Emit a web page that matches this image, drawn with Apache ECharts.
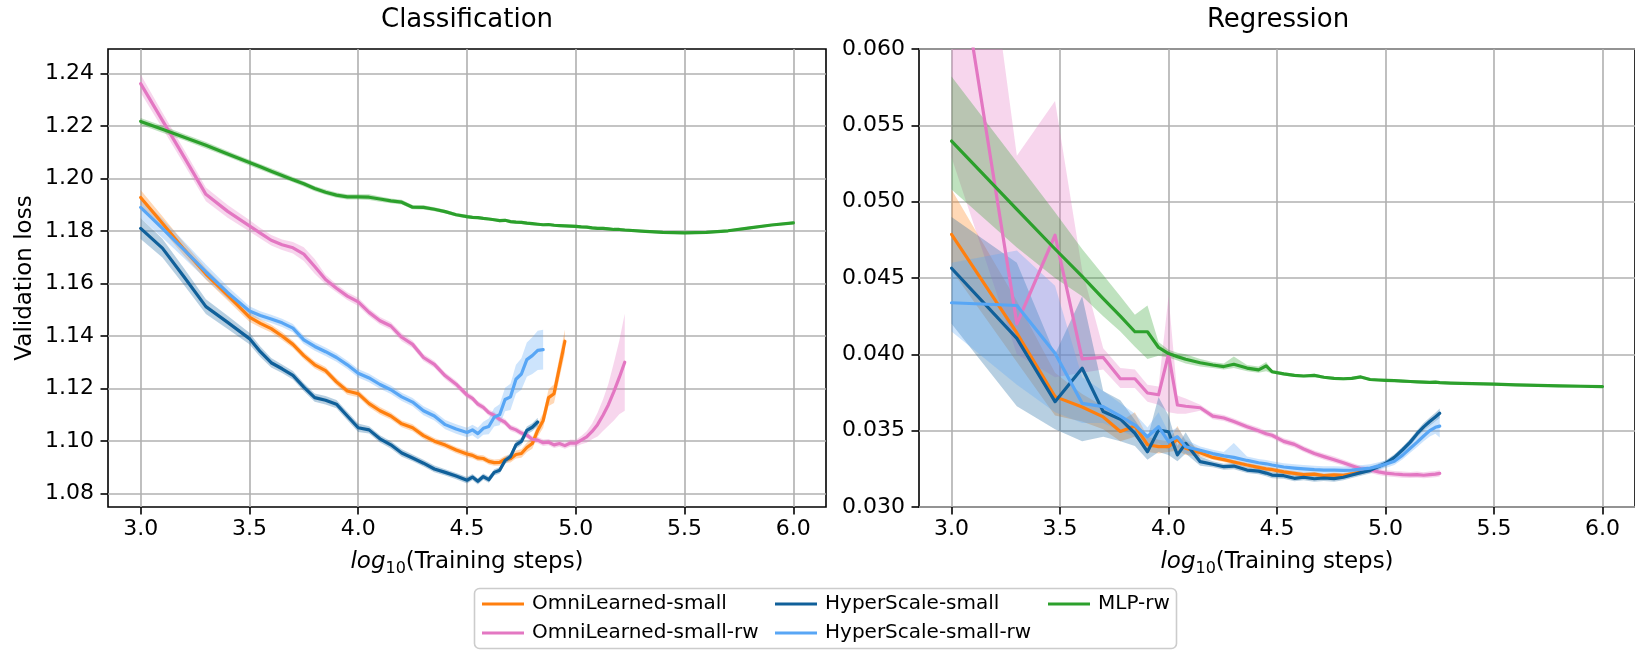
<!DOCTYPE html>
<html>
<head>
<meta charset="utf-8">
<script src="https://cdn.jsdelivr.net/npm/echarts@6/dist/echarts.min.js"></script>
<style>
  html, body { margin: 0; padding: 0; background: #ffffff; }
  #chart { width: 1635px; height: 650px; }
</style>
</head>
<body>
<div id="chart"></div>
<script>
// ---------- tick labels ----------
const xTicks = [3.0, 3.5, 4.0, 4.5, 5.0, 5.5, 6.0];
const clsYTicks = [1.08, 1.10, 1.12, 1.14, 1.16, 1.18, 1.20, 1.22, 1.24];
const regYTicks = [0.030, 0.035, 0.040, 0.045, 0.050, 0.055, 0.060];

// ---------- classification: log10(training steps) ----------
const clsX = [3.0, 3.1, 3.2, 3.3, 3.4, 3.5,
  3.55, 3.6, 3.65, 3.7, 3.75, 3.8, 3.85, 3.9, 3.95, 4.0,
  4.05, 4.1, 4.15, 4.2, 4.25, 4.3, 4.35, 4.4, 4.45, 4.5,
  4.525, 4.55, 4.575, 4.6, 4.625, 4.65, 4.675, 4.7, 4.725, 4.75,
  4.775, 4.8, 4.825, 4.85, 4.875, 4.9, 4.925, 4.95, 4.975, 5.0,
  5.025, 5.05, 5.075, 5.1, 5.125, 5.15, 5.175, 5.2, 5.225,
  5.3, 5.4, 5.5, 5.6, 5.7, 5.8, 5.9, 6.0];

// classification validation loss (mean) and spread of the shaded band
const clsOrange = [1.1928, 1.1830, 1.1730, 1.1636, 1.1555, 1.1472,
  1.1448, 1.1428, 1.1400, 1.1368, 1.1325, 1.1290, 1.1268, 1.1225, 1.1190, 1.1180,
  1.1142, 1.1115, 1.1095, 1.1065, 1.1050, 1.1020, 1.0999, 1.0984, 1.0965, 1.0950,
  1.0945, 1.0935, 1.0933, 1.0922, 1.0917, 1.0918, 1.0930, 1.0932, 1.0948, 1.0952,
  1.0975, 1.0990, 1.1040, 1.1078, 1.1165, 1.1180, 1.1280, 1.1380];
const clsOrangeSpread = [0.0028, 0.0026, 0.0024, 0.0022, 0.0020, 0.0018,
  0.0016, 0.0015, 0.0015, 0.0014, 0.0014, 0.0014, 0.0014, 0.0014, 0.0014, 0.0014,
  0.0014, 0.0014, 0.0013, 0.0013, 0.0013, 0.0013, 0.0012, 0.0012, 0.0012, 0.0012,
  0.0012, 0.0012, 0.0012, 0.0012, 0.0012, 0.0013, 0.0013, 0.0014, 0.0015, 0.0016,
  0.0018, 0.0020, 0.0024, 0.0028, 0.0032, 0.0036, 0.0040, 0.0045];

const clsPink = [1.2362, 1.2222, 1.2082, 1.1940, 1.1875, 1.1820,
  1.1792, 1.1765, 1.1748, 1.1736, 1.1712, 1.1665, 1.1615, 1.1582, 1.1552, 1.1530,
  1.1490, 1.1458, 1.1438, 1.1395, 1.1368, 1.1318, 1.1292, 1.1248, 1.1216, 1.1175,
  1.1162, 1.1140, 1.1128, 1.1108, 1.1098, 1.1082, 1.1071, 1.1050, 1.1042, 1.1030,
  1.1022, 1.1006, 1.1003, 1.0993, 1.0995, 1.0985, 1.0990, 1.0982, 1.0992, 1.0991,
  1.1003, 1.1015, 1.1036, 1.1062, 1.1098, 1.1138, 1.1188, 1.1242, 1.1300];
const clsPinkSpread = [0.0035, 0.0030, 0.0028, 0.0026, 0.0024, 0.0022,
  0.0020, 0.0020, 0.0020, 0.0022, 0.0026, 0.0028, 0.0018, 0.0015, 0.0015, 0.0016,
  0.0015, 0.0014, 0.0014, 0.0015, 0.0014, 0.0013, 0.0013, 0.0013, 0.0013, 0.0012,
  0.0012, 0.0012, 0.0012, 0.0012, 0.0012, 0.0012, 0.0012, 0.0012, 0.0012, 0.0012,
  0.0012, 0.0012, 0.0012, 0.0012, 0.0012, 0.0012, 0.0012, 0.0012, 0.0013, 0.0013,
  0.0016, 0.0022, 0.0030, 0.0045, 0.0060, 0.0080, 0.0110, 0.0140, 0.0185];

const clsDark = [1.1810, 1.1735, 1.1625, 1.1512, 1.1452, 1.1390,
  1.1340, 1.1298, 1.1275, 1.1250, 1.1205, 1.1165, 1.1155, 1.1140, 1.1095, 1.1050,
  1.1042, 1.1008, 1.0985, 1.0954, 1.0935, 1.0915, 1.0893, 1.0880, 1.0866, 1.0850,
  1.0862, 1.0846, 1.0864, 1.0852, 1.0880, 1.0888, 1.0925, 1.0940, 1.0985, 1.0998,
  1.1040, 1.1052, 1.1072];
const clsDarkSpread = [0.0040, 0.0036, 0.0032, 0.0028, 0.0025, 0.0022,
  0.0020, 0.0018, 0.0016, 0.0016, 0.0016, 0.0016, 0.0016, 0.0016, 0.0016, 0.0016,
  0.0014, 0.0014, 0.0014, 0.0014, 0.0013, 0.0013, 0.0013, 0.0012, 0.0012, 0.0012,
  0.0012, 0.0012, 0.0012, 0.0012, 0.0012, 0.0012, 0.0013, 0.0013, 0.0014, 0.0014,
  0.0015, 0.0015, 0.0016];

const clsLight = [1.1890, 1.1810, 1.1728, 1.1644, 1.1565, 1.1495,
  1.1478, 1.1465, 1.1450, 1.1430, 1.1385, 1.1360, 1.1340, 1.1318, 1.1290, 1.1258,
  1.1240, 1.1215, 1.1195, 1.1168, 1.1148, 1.1115, 1.1095, 1.1062, 1.1045, 1.1032,
  1.1042, 1.1028, 1.1048, 1.1055, 1.1090, 1.1100, 1.1158, 1.1168, 1.1235, 1.1255,
  1.1310, 1.1325, 1.1345, 1.1348];
const clsLightSpread = [0.0040, 0.0036, 0.0032, 0.0028, 0.0024, 0.0018,
  0.0016, 0.0016, 0.0016, 0.0016, 0.0016, 0.0016, 0.0016, 0.0016, 0.0016, 0.0016,
  0.0016, 0.0016, 0.0016, 0.0016, 0.0016, 0.0017, 0.0017, 0.0018, 0.0018, 0.0018,
  0.0020, 0.0022, 0.0025, 0.0030, 0.0035, 0.0040, 0.0045, 0.0050, 0.0055, 0.0060,
  0.0065, 0.0070, 0.0075, 0.0076];

const clsGreen = [1.2218, 1.2188, 1.2158, 1.2127, 1.2094, 1.2061,
  1.2045, 1.2028, 1.2012, 1.1996, 1.1980, 1.1962, 1.1948, 1.1937, 1.1930, 1.1930,
  1.1929, 1.1922, 1.1915, 1.1910, 1.1891, 1.1890, 1.1883, 1.1874, 1.1862, 1.1855,
  1.1852, 1.1851, 1.1848, 1.1846, 1.1843, 1.1840, 1.1841, 1.1836, 1.1834, 1.1833,
  1.1830, 1.1828, 1.1826, 1.1824, 1.1825, 1.1822, 1.1821, 1.1820, 1.1819, 1.1818,
  1.1816, 1.1815, 1.1812, 1.1810, 1.1810, 1.1808, 1.1806, 1.1806, 1.1804,
  1.1800, 1.1795, 1.1793, 1.1795, 1.1801, 1.1812, 1.1823, 1.1831];
const clsGreenSpread = [0.0013, 0.0013, 0.0012, 0.0012, 0.0011, 0.0011,
  0.0011, 0.0011, 0.0011, 0.0010, 0.0010, 0.0010, 0.0010, 0.0010, 0.0010, 0.0010,
  0.0011, 0.0010, 0.0009, 0.0009, 0.0008, 0.0008, 0.0008, 0.0007, 0.0007, 0.0007,
  0.0006, 0.0006, 0.0006, 0.0006, 0.0006, 0.0006, 0.0006, 0.0006, 0.0006, 0.0006,
  0.0006, 0.0006, 0.0006, 0.0006, 0.0006, 0.0006, 0.0006, 0.0006, 0.0006, 0.0006,
  0.0006, 0.0006, 0.0006, 0.0006, 0.0006, 0.0006, 0.0006, 0.0006, 0.0006,
  0.0005, 0.0005, 0.0005, 0.0005, 0.0005, 0.0005, 0.0005, 0.0005];

// ---------- regression: log10(training steps) ----------
const regX = [3.0, 3.301, 3.477, 3.602, 3.699, 3.778, 3.845, 3.903, 3.954, 4.0,
  4.041, 4.079, 4.146, 4.204, 4.255, 4.301, 4.362, 4.415, 4.45, 4.477,
  4.531, 4.58, 4.623, 4.672, 4.716, 4.763, 4.806, 4.845, 4.886, 4.929,
  4.968, 5.0, 5.041, 5.079, 5.114, 5.146, 5.176, 5.204, 5.23, 5.25,
  5.3, 5.4, 5.5, 5.6, 5.7, 5.8, 5.9, 6.0];

// regression validation loss (mean) with lower / upper edge of the shaded band
const regOrange = [0.04786, 0.04140, 0.03723, 0.03655, 0.03590, 0.03495, 0.03530, 0.03408, 0.03395, 0.03395,
  0.03443, 0.03385, 0.03355, 0.03325, 0.03310, 0.03295, 0.03275, 0.03260, 0.03250, 0.03245,
  0.03230, 0.03220, 0.03212, 0.03215, 0.03205, 0.03210, 0.03208, 0.03218, 0.03228, 0.03248];
const regOrangeLo = [0.0455, 0.0395, 0.0360, 0.0356, 0.0351, 0.0343, 0.0346, 0.0336, 0.0335, 0.0336,
  0.0337, 0.0334, 0.0333, 0.03310, 0.03295, 0.03280, 0.03260, 0.03245, 0.03235, 0.03230,
  0.03215, 0.03205, 0.03197, 0.03200, 0.03190, 0.03195, 0.03193, 0.03203, 0.03213, 0.03233];
const regOrangeHi = [0.0508, 0.0435, 0.0388, 0.0374, 0.0366, 0.0356, 0.0362, 0.0346, 0.0344, 0.0343,
  0.0353, 0.0343, 0.0338, 0.03340, 0.03325, 0.03310, 0.03290, 0.03275, 0.03265, 0.03260,
  0.03245, 0.03235, 0.03227, 0.03230, 0.03220, 0.03225, 0.03223, 0.03233, 0.03243, 0.03263];

const regPink = [0.0690, 0.0420, 0.0478, 0.0397, 0.0398, 0.0384, 0.0384, 0.03747, 0.03735, 0.0400,
  0.03668, 0.03660, 0.03650, 0.03595, 0.03583, 0.03560, 0.03526, 0.03500, 0.03480, 0.03470,
  0.03430, 0.03410, 0.03380, 0.03350, 0.03330, 0.03310, 0.03290, 0.03270, 0.03250, 0.03242,
  0.03230, 0.03222, 0.03216, 0.03212, 0.03210, 0.03212, 0.03208, 0.03212, 0.03215, 0.03220];
const regPinkLo = [0.0529, 0.0400, 0.0385, 0.0388, 0.0390, 0.0378, 0.0378, 0.0369, 0.0367, 0.0362,
  0.0361, 0.0361, 0.03630, 0.03575, 0.03563, 0.03540, 0.03506, 0.03480, 0.03460, 0.03450,
  0.03410, 0.03390, 0.03360, 0.03330, 0.03310, 0.03290, 0.03270, 0.03250, 0.03230, 0.03222,
  0.03210, 0.03202, 0.03196, 0.03192, 0.03190, 0.03192, 0.03188, 0.03192, 0.03195, 0.03200];
const regPinkHi = [0.0850, 0.0530, 0.0566, 0.0455, 0.0404, 0.0391, 0.0390, 0.0380, 0.0379, 0.0438,
  0.0373, 0.0371, 0.03670, 0.03615, 0.03603, 0.03580, 0.03546, 0.03520, 0.03500, 0.03490,
  0.03450, 0.03430, 0.03400, 0.03370, 0.03350, 0.03330, 0.03310, 0.03290, 0.03270, 0.03262,
  0.03250, 0.03242, 0.03236, 0.03232, 0.03230, 0.03232, 0.03228, 0.03232, 0.03235, 0.03240];

const regDark = [0.04564, 0.04105, 0.03690, 0.03909, 0.03625, 0.03575, 0.03483, 0.03362, 0.03504, 0.03493,
  0.03341, 0.03417, 0.03297, 0.03280, 0.03264, 0.03268, 0.03242, 0.03235, 0.03222, 0.03209,
  0.03205, 0.03188, 0.03195, 0.03185, 0.03190, 0.03186, 0.03195, 0.03210, 0.03225, 0.03240,
  0.03265, 0.03285, 0.03325, 0.03375, 0.03425, 0.03480, 0.03525, 0.03560, 0.03590, 0.03614];
const regDarkLo = [0.0420, 0.0366, 0.0351, 0.0343, 0.0346, 0.0343, 0.0340, 0.0331, 0.0336, 0.0334,
  0.0330, 0.0335, 0.0327, 0.03260, 0.03244, 0.03248, 0.03222, 0.03215, 0.03202, 0.03189,
  0.03185, 0.03168, 0.03175, 0.03165, 0.03170, 0.03166, 0.03175, 0.03190, 0.03205, 0.03220,
  0.03245, 0.03265, 0.03305, 0.03355, 0.03403, 0.03457, 0.03500, 0.03533, 0.03562, 0.03583];
const regDarkHi = [0.0490, 0.0460, 0.0400, 0.0438, 0.0376, 0.0370, 0.0357, 0.0345, 0.0372, 0.0360,
  0.0340, 0.0349, 0.0333, 0.03300, 0.03284, 0.03288, 0.03262, 0.03255, 0.03242, 0.03229,
  0.03225, 0.03208, 0.03215, 0.03205, 0.03210, 0.03206, 0.03215, 0.03230, 0.03245, 0.03260,
  0.03285, 0.03305, 0.03345, 0.03395, 0.03447, 0.03503, 0.03550, 0.03587, 0.03618, 0.03645];

const regLight = [0.04338, 0.04320, 0.04007, 0.03679, 0.03657, 0.03595, 0.03537, 0.03460, 0.03526, 0.03428,
  0.03460, 0.03395, 0.03372, 0.03350, 0.03335, 0.03325, 0.03305, 0.03290, 0.03283, 0.03275,
  0.03262, 0.03255, 0.03250, 0.03245, 0.03242, 0.03242, 0.03240, 0.03242, 0.03248, 0.03255,
  0.03268, 0.03280, 0.03300, 0.03340, 0.03385, 0.03425, 0.03465, 0.03500, 0.03522, 0.03530];
const regLightLo = [0.0415, 0.0380, 0.0362, 0.0355, 0.0355, 0.0350, 0.0346, 0.0340, 0.0342, 0.0337,
  0.0339, 0.0335, 0.03347, 0.03325, 0.03310, 0.03300, 0.03280, 0.03265, 0.03258, 0.03250,
  0.03237, 0.03230, 0.03225, 0.03220, 0.03217, 0.03217, 0.03215, 0.03217, 0.03223, 0.03230,
  0.03243, 0.03255, 0.03275, 0.03312, 0.03355, 0.03393, 0.03430, 0.03462, 0.03480, 0.03455];
const regLightHi = [0.0460, 0.0468, 0.0445, 0.0385, 0.0376, 0.0368, 0.0361, 0.0352, 0.0362, 0.0349,
  0.0352, 0.0344, 0.03397, 0.03375, 0.03360, 0.03420, 0.03330, 0.03315, 0.03308, 0.03300,
  0.03287, 0.03280, 0.03275, 0.03270, 0.03267, 0.03267, 0.03265, 0.03267, 0.03273, 0.03280,
  0.03293, 0.03305, 0.03325, 0.03368, 0.03415, 0.03457, 0.03500, 0.03538, 0.03565, 0.03610];

const regGreen = [0.05397, 0.04950, 0.04690, 0.04510, 0.04365, 0.04250, 0.04148, 0.04148, 0.04045, 0.04005,
  0.03985, 0.03968, 0.03945, 0.03930, 0.03920, 0.03935, 0.03910, 0.03898, 0.03924, 0.03886,
  0.03872, 0.03862, 0.03858, 0.03862, 0.03850, 0.03842, 0.03840, 0.03843, 0.03852, 0.03835,
  0.03832, 0.03830, 0.03828, 0.03825, 0.03822, 0.03820, 0.03818, 0.03816, 0.03818, 0.03815,
  0.03812, 0.03808, 0.03805, 0.03800, 0.03797, 0.03794, 0.03791, 0.03789];
const regGreenLo = [0.0508, 0.0470, 0.0450, 0.0438, 0.0425, 0.0415, 0.0405, 0.0397, 0.0399, 0.0398,
  0.0396, 0.0394, 0.0392, 0.0391, 0.0390, 0.0391, 0.0389, 0.0388, 0.0389, 0.03875,
  0.03862, 0.03852, 0.03848, 0.03852, 0.03840, 0.03832, 0.03830, 0.03833, 0.03842, 0.03825,
  0.03822, 0.03820, 0.03818, 0.03815, 0.03812, 0.03810, 0.03808, 0.03806, 0.03808, 0.03805,
  0.03803, 0.03799, 0.03796, 0.03791, 0.03788, 0.03785, 0.03782, 0.03780];
const regGreenHi = [0.0582, 0.0526, 0.0493, 0.0469, 0.0452, 0.0438, 0.0426, 0.0432, 0.0408, 0.0403,
  0.0401, 0.0400, 0.0397, 0.0395, 0.0394, 0.03985, 0.0393, 0.0392, 0.0395, 0.03897,
  0.03882, 0.03872, 0.03868, 0.03872, 0.03860, 0.03852, 0.03850, 0.03853, 0.03862, 0.03845,
  0.03842, 0.03840, 0.03838, 0.03835, 0.03832, 0.03830, 0.03828, 0.03826, 0.03828, 0.03825,
  0.03821, 0.03817, 0.03814, 0.03809, 0.03806, 0.03803, 0.03800, 0.03798];

// ---------- styling ----------
const FONT = 'DejaVu Sans';
const models = [
  { name: 'OmniLearned-small',    color: '#ff7f0e', cls: clsOrange, spread: clsOrangeSpread, reg: regOrange, lo: regOrangeLo, hi: regOrangeHi },
  { name: 'OmniLearned-small-rw', color: '#e377c2', cls: clsPink,   spread: clsPinkSpread,   reg: regPink,   lo: regPinkLo,   hi: regPinkHi },
  { name: 'HyperScale-small',     color: '#10609a', cls: clsDark,   spread: clsDarkSpread,   reg: regDark,   lo: regDarkLo,   hi: regDarkHi },
  { name: 'HyperScale-small-rw',  color: '#58a6f5', cls: clsLight,  spread: clsLightSpread,  reg: regLight,  lo: regLightLo,  hi: regLightHi },
  { name: 'MLP-rw',               color: '#2ca02c', cls: clsGreen,  spread: clsGreenSpread,  reg: regGreen,  lo: regGreenLo,  hi: regGreenHi }
];

// shaded band between lower and upper edge, one translucent polygon per model
function band(id, xs, lo, hi, color, axis) {
  return {
    type: 'custom', name: id, xAxisIndex: axis, yAxisIndex: axis,
    data: lo.map((v, i) => [xs[i], v, hi[i]]),
    encode: { x: 0, y: [1, 2] },
    silent: true, z: 1, clip: true,
    renderItem: function (params, api) {
      if (params.dataIndex !== 0) return null;
      const pts = [];
      for (let i = 0; i < lo.length; i++) pts.push(api.coord([xs[i], hi[i]]));
      for (let i = lo.length - 1; i >= 0; i--) pts.push(api.coord([xs[i], lo[i]]));
      return { type: 'polygon', shape: { points: pts }, style: { fill: color, opacity: 0.3 } };
    }
  };
}

function meanLine(name, xs, ys, color, axis) {
  return {
    type: 'line', name: name, xAxisIndex: axis, yAxisIndex: axis,
    data: ys.map((v, i) => [xs[i], v]), color: color,
    symbol: 'none', silent: true, z: 3, clip: true,
    lineStyle: { color: color, width: 3.2, cap: 'round', join: 'round' },
    emphasis: { disabled: true }
  };
}

const series = [];
models.forEach(m => {
  const lo = m.cls.map((v, i) => v - m.spread[i]);
  const hi = m.cls.map((v, i) => v + m.spread[i]);
  series.push(band(m.name + ' cls band', clsX, lo, hi, m.color, 0));
  series.push(band(m.name + ' reg band', regX, m.lo, m.hi, m.color, 1));
});
models.forEach(m => {
  series.push(meanLine(m.name, clsX, m.cls, m.color, 0));
  series.push(meanLine(m.name, regX, m.reg, m.color, 1));
});

const tickFont = { fontSize: 22, fontFamily: FONT, color: '#000' };

function xAxis(grid) {
  return {
    type: 'value', gridIndex: grid, min: 2.85, max: 6.15,
    axisLine: { show: false },
    axisTick: { show: true, length: 7.5, customValues: xTicks, lineStyle: { color: '#000', width: 1.6 } },
    axisLabel: Object.assign({ customValues: xTicks, margin: 11, formatter: v => v.toFixed(1) }, tickFont),
    splitLine: { show: true, lineStyle: { color: '#b0b0b0', width: 1.6 } },
    name: '{i|log}{s|10}(Training steps)', nameLocation: 'middle', nameGap: 40,
    nameTextStyle: {
      fontSize: 23, fontFamily: FONT, color: '#000', lineHeight: 30,
      rich: {
        i: { fontSize: 23, fontFamily: FONT, fontStyle: 'italic', color: '#000', lineHeight: 30 },
        s: { fontSize: 16, fontFamily: FONT, color: '#000', lineHeight: 16, verticalAlign: 'bottom' }
      }
    }
  };
}

function yAxis(grid, min, max, ticks, digits, name) {
  const ax = {
    type: 'value', gridIndex: grid, min: min, max: max,
    axisLine: { show: false },
    axisTick: { show: true, length: 7.5, customValues: ticks, lineStyle: { color: '#000', width: 1.6 } },
    axisLabel: Object.assign({ customValues: ticks, margin: 14, formatter: v => v.toFixed(digits) }, tickFont),
    splitLine: { show: true, lineStyle: { color: '#b0b0b0', width: 1.6 } }
  };
  if (name) {
    Object.assign(ax, {
      name: name, nameLocation: 'middle', nameGap: 71,
      nameTextStyle: { fontSize: 23, fontFamily: FONT, color: '#000' }
    });
  }
  return ax;
}

const legendCommon = {
  orient: 'vertical', top: 594, padding: 0, itemGap: 9,
  icon: 'rect', itemWidth: 42, itemHeight: 3.2, selectedMode: false,
  textStyle: { fontSize: 20, fontFamily: FONT, color: '#000', lineHeight: 20, padding: [0, 0, 0, 3] }
};

const option = {
  animation: false,
  backgroundColor: '#ffffff',
  grid: [
    { left: 108, top: 49, width: 718, height: 458, show: true, borderColor: '#000', borderWidth: 1.6, backgroundColor: 'transparent' },
    { left: 919, top: 49, width: 718, height: 458, show: true, borderColor: '#000', borderWidth: 1.6, backgroundColor: 'transparent' }
  ],
  xAxis: [xAxis(0), xAxis(1)],
  yAxis: [
    yAxis(0, 1.0748, 1.2494, clsYTicks, 2, 'Validation loss'),
    yAxis(1, 0.030, 0.060, regYTicks, 3, null)
  ],
  legend: [
    Object.assign({}, legendCommon, { left: 482, data: ['OmniLearned-small', 'OmniLearned-small-rw'] }),
    Object.assign({}, legendCommon, { left: 775, data: ['HyperScale-small', 'HyperScale-small-rw'] }),
    Object.assign({}, legendCommon, { left: 1048, data: ['MLP-rw'] })
  ],
  graphic: [
    { type: 'text', x: 467, y: 20, z: 10,
      style: { text: 'Classification', fontSize: 26, fontFamily: FONT, fill: '#000', align: 'center', verticalAlign: 'middle' } },
    { type: 'text', x: 1278, y: 20, z: 10,
      style: { text: 'Regression', fontSize: 26, fontFamily: FONT, fill: '#000', align: 'center', verticalAlign: 'middle' } },
    { type: 'rect', x: 474.5, y: 588.5, z: 0,
      shape: { width: 702, height: 60, r: 5 },
      style: { fill: 'rgba(255,255,255,0.8)', stroke: '#cccccc', lineWidth: 1.6 } }
  ],
  series: series
};

const chart = echarts.init(document.getElementById('chart'), null, { renderer: 'canvas' });
chart.setOption(option);
</script>
</body>
</html>
